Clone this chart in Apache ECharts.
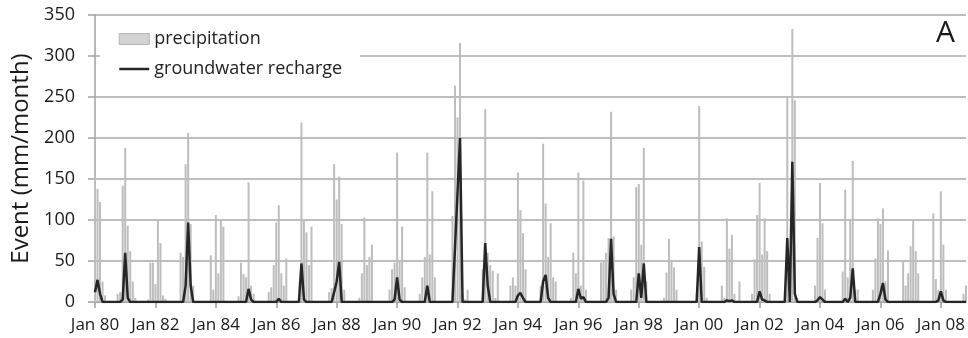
<!DOCTYPE html>
<html>
<head>
<meta charset="utf-8">
<script src="https://cdn.jsdelivr.net/npm/echarts@6/dist/echarts.min.js"></script>
<style>
html,body{margin:0;padding:0;background:#fff;}
#chart{width:968px;height:338px;}
</style>
</head>
<body>
<div id="chart"></div>
<script>
// Monthly values, Jan 1980 .. Nov 2008 (one row per year, Jan..Dec)
var precipitation = [
  155,138,122,25,8,0,0,0,0,10,12,142,      // 1980
  188,93,62,25,5,0,0,0,0,3,48,48,          // 1981
  22,100,72,8,4,0,0,0,0,0,60,55,           // 1982
  168,206,95,20,0,0,0,0,0,0,57,15,         // 1983
  106,35,100,92,0,0,0,0,0,7,48,34,         // 1984
  30,146,20,10,0,0,0,0,0,12,18,45,         // 1985
  97,118,35,20,53,0,0,0,0,0,219,100,       // 1986
  85,45,92,0,0,0,0,0,0,12,17,168,          // 1987
  125,153,95,15,0,0,0,0,0,5,35,103,        // 1988
  45,55,70,0,0,0,0,0,0,15,40,48,           // 1989
  182,50,92,18,0,0,0,0,0,10,30,55,         // 1990
  182,58,135,30,0,0,0,0,0,0,105,264,       // 1991
  225,316,10,3,15,0,0,0,0,0,40,235,        // 1992
  60,45,38,5,35,0,0,0,0,20,30,20,          // 1993
  158,112,84,40,0,0,0,0,0,20,193,120,      // 1994
  55,96,30,25,0,0,0,0,0,5,60,35,           // 1995
  158,20,148,15,0,0,0,0,0,48,50,60,        // 1996
  78,232,80,15,0,0,0,0,0,15,30,140,        // 1997
  144,70,188,25,0,0,0,0,0,0,5,36,          // 1998
  77,50,42,15,0,0,0,0,0,0,0,10,            // 1999
  239,74,43,5,0,0,0,0,0,20,5,102,          // 2000
  65,82,10,0,25,0,0,0,0,10,52,106,         // 2001
  145,58,102,62,10,0,0,0,0,0,15,250,       // 2002
  10,333,246,5,0,0,0,0,0,0,20,78,          // 2003
  145,96,15,0,0,0,0,0,0,37,137,30,         // 2004
  100,172,15,15,0,0,0,0,0,15,53,102,       // 2005
  95,114,25,63,0,0,0,0,0,50,20,35,         // 2006
  68,100,62,35,0,0,0,0,0,108,28,15,        // 2007
  135,70,15,0,0,0,0,0,0,10,20              // 2008
];
var recharge = [
  12,27,10,0,0,0,0,0,0,0,0,3,              // 1980
  60,5,0,0,0,0,0,0,0,0,0,0,                // 1981
  0,0,0,0,0,0,0,0,0,0,0,0,                 // 1982
  20,97,20,0,0,0,0,0,0,0,0,0,              // 1983
  0,0,0,0,0,0,0,0,0,0,0,0,                 // 1984
  0,16,3,0,0,0,0,0,0,0,0,0,                // 1985
  0,4,0,0,0,0,0,0,0,0,47,3,                // 1986
  0,0,0,0,0,0,0,0,0,0,0,12,                // 1987
  25,49,0,0,0,0,0,0,0,0,0,0,               // 1988
  0,0,0,0,0,0,0,0,0,0,0,3,                 // 1989
  30,3,0,0,0,0,0,0,0,0,0,0,                // 1990
  20,0,0,0,0,0,0,0,0,0,0,66,               // 1991
  133,200,0,0,0,0,0,0,0,0,0,72,            // 1992
  20,0,0,0,0,0,0,0,0,0,0,0,                // 1993
  8,11,5,0,0,0,0,0,0,0,25,33,              // 1994
  5,0,0,0,0,0,0,0,0,0,0,0,                 // 1995
  16,4,6,0,0,0,0,0,0,0,0,0,                // 1996
  5,77,10,0,0,0,0,0,0,0,0,0,               // 1997
  35,5,47,0,0,0,0,0,0,0,0,0,               // 1998
  0,0,0,0,0,0,0,0,0,0,0,0,                 // 1999
  67,0,0,0,0,0,0,0,0,0,0,2,                // 2000
  1,2,0,0,0,0,0,0,0,0,0,0,                 // 2001
  13,3,2,0,0,0,0,0,0,0,0,78,               // 2002
  0,171,10,0,0,0,0,0,0,0,0,2,              // 2003
  6,3,0,0,0,0,0,0,0,0,4,0,                 // 2004
  5,41,0,0,0,0,0,0,0,0,0,0,                // 2005
  10,23,3,0,0,0,0,0,0,0,0,0,               // 2006
  0,0,0,0,0,0,0,0,0,0,0,2,                 // 2007
  13,2,0,0,0,0,0,0,0,0,0                   // 2008
];
var monthNames = ['Jan','Feb','Mar','Apr','May','Jun','Jul','Aug','Sep','Oct','Nov','Dec'];
var firstYear = 1980;
var yTicks = {min: 0, max: 350, interval: 50};

var categories = [];
for (var i = 0; i < precipitation.length; i++) {
  var yr = firstYear + Math.floor(i / 12);
  categories.push(monthNames[i % 12] + ' ' + String(yr).slice(2));
}

var FONT = 'Open Sans';
var chart = echarts.init(document.getElementById('chart'), null, {renderer: 'canvas'});
chart.setOption({
  animation: false,
  backgroundColor: '#ffffff',
  textStyle: {fontFamily: FONT},
  grid: {left: 95, right: 0, top: 15, bottom: 36, containLabel: false},
  legend: {
    orient: 'vertical',
    left: 100, top: 22,
    padding: [8, 18, 8, 18],
    itemGap: 12,
    backgroundColor: '#ffffff',
    itemWidth: 30, itemHeight: 11,
    textStyle: {fontFamily: FONT, fontSize: 18, color: '#222'},
    data: [
      {name: 'precipitation', icon: 'rect', itemStyle: {color: '#d3d3d3', borderColor: '#b5b5b5', borderWidth: 1}},
      {name: 'groundwater recharge', itemStyle: {opacity: 0}, lineStyle: {color: '#262626', width: 2.5}}
    ]
  },
  xAxis: {
    type: 'category',
    data: categories,
    boundaryGap: false,
    axisLine: {lineStyle: {color: '#a0a0a0', width: 1.5}},
    axisTick: {interval: 23, length: 6, lineStyle: {color: '#a0a0a0', width: 1.5}},
    axisLabel: {interval: 23, fontSize: 17, color: '#1a1a1a', margin: 15, fontFamily: FONT},
    splitLine: {show: false}
  },
  yAxis: {
    type: 'value',
    min: yTicks.min, max: yTicks.max, interval: yTicks.interval,
    name: 'Event (mm/month)',
    nameLocation: 'middle',
    nameGap: 62,
    nameTextStyle: {fontSize: 24, color: '#1a1a1a', fontFamily: FONT},
    axisLine: {show: true, lineStyle: {color: '#a0a0a0', width: 1.5}},
    axisTick: {show: true, length: 7, lineStyle: {color: '#a0a0a0', width: 1.5}},
    axisLabel: {fontSize: 18, color: '#1a1a1a', margin: 20, fontFamily: FONT},
    splitLine: {show: true, lineStyle: {color: '#a8a8a8', width: 1.5}}
  },
  series: [
    {
      name: 'precipitation',
      type: 'bar',
      data: precipitation,
      barWidth: 2,
      itemStyle: {color: '#bdbdbd'},
      z: 2
    },
    {
      name: 'groundwater recharge',
      type: 'line',
      data: recharge,
      symbol: 'none',
      lineStyle: {color: '#262626', width: 2.5},
      itemStyle: {color: '#262626'},
      z: 3
    }
  ],
  graphic: [{
    type: 'text',
    left: 936, top: 18,
    style: {text: 'A', fontSize: 30, fontFamily: FONT, fill: '#1a1a1a'}
  }]
});
</script>
</body>
</html>
